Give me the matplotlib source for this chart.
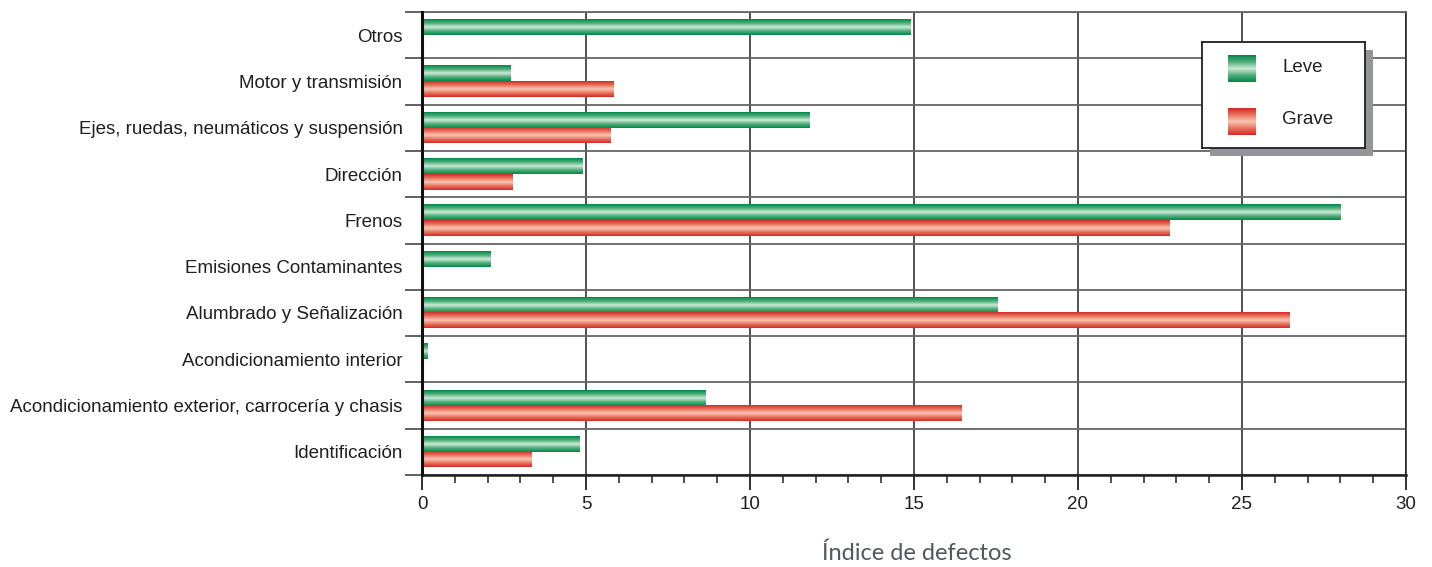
import numpy as np
import matplotlib
matplotlib.use("Agg")
from matplotlib import pyplot as plt
from matplotlib.colors import LinearSegmentedColormap
from matplotlib.patches import Rectangle
from matplotlib.ticker import MultipleLocator

categorias = ["Otros", "Motor y transmisión", "Ejes, ruedas, neumáticos y suspensión",
              "Dirección", "Frenos", "Emisiones Contaminantes", "Alumbrado y Señalización",
              "Acondicionamiento interior", "Acondicionamiento exterior, carrocería y chasis",
              "Identificación"]
leve = [14.9, 2.7, 11.8, 4.9, 28.0, 2.1, 17.55, 0.18, 8.65, 4.8]
grave = [0.0, 5.85, 5.75, 2.75, 22.8, 0.0, 26.45, 0.05, 16.45, 3.35]
series_names = ["Leve", "Grave"]

W, H = 1432, 567
TXT = "#231f20"
FS = 13.5

cmap_verde = LinearSegmentedColormap.from_list("verde", ["#00894a", "#4fae78", "#cfeada", "#4fae78", "#00894a"])
cmap_rojo = LinearSegmentedColormap.from_list("rojo", ["#d42b27", "#e8735f", "#f9c6b4", "#e8735f", "#d42b27"])
grad = np.linspace(0, 1, 64).reshape(-1, 1)

def fx(px):
    return px / W

def fy(py):
    return 1 - py / H

plt.rcParams['font.family'] = ['Liberation Sans', 'DejaVu Sans']

fig = plt.figure(figsize=(W / 100, H / 100), dpi=100)
ax = fig.add_axes([fx(422), fy(475), fx(1406) - fx(422), fy(12) - fy(475)])

h = 0.335
for i in range(len(categorias)):
    if leve[i] > 0:
        ax.imshow(grad, cmap=cmap_verde, extent=(0, leve[i], i - h, i), aspect='auto',
                  interpolation='bilinear', zorder=3)
    if grave[i] > 0:
        ax.imshow(grad, cmap=cmap_rojo, extent=(0, grave[i], i, i + h), aspect='auto',
                  interpolation='bilinear', zorder=3)

ax.set_xlim(0, 30)
ax.set_ylim(len(categorias) - 0.5, -0.5)

# ejes y rejilla
ax.xaxis.set_major_locator(MultipleLocator(5))
ax.xaxis.set_minor_locator(MultipleLocator(1))
ax.tick_params(axis='x', which='major', length=11, width=1.3, color=TXT, labelsize=FS,
               labelcolor=TXT, pad=4)
ax.tick_params(axis='x', which='minor', length=6, width=1.1, color=TXT)
ax.set_yticks(np.arange(-0.5, len(categorias), 1))
ax.set_yticklabels([])
ax.set_yticks(np.arange(len(categorias)), minor=True)
ax.set_yticklabels(categorias, minor=True)
ax.tick_params(axis='y', which='major', length=12, width=1.3, color="#555555")
ax.tick_params(axis='y', which='minor', length=0, labelsize=FS, labelcolor=TXT, pad=14)
ax.grid(axis='x', which='major', color=TXT, linewidth=1.1, zorder=1)
ax.grid(axis='y', which='major', color="#666666", linewidth=1.3, zorder=1)
ax.set_axisbelow(True)
ax.spines['left'].set_linewidth(2.2)
ax.spines['left'].set_color("#111111")
ax.spines['left'].set_zorder(4)
ax.spines['bottom'].set_linewidth(1.8)
ax.spines['bottom'].set_color(TXT)
ax.spines['right'].set_linewidth(1.1)
ax.spines['right'].set_color(TXT)
ax.spines['top'].set_linewidth(1.3)
ax.spines['top'].set_color("#666666")

fig.text(fx(917), fy(553), "Índice de defectos", ha='center', va='center',
         fontsize=17, color="#4d5a5e", family=['Lato', 'DejaVu Sans'])

# leyenda con sombra
fig.patches.append(Rectangle((fx(1210), fy(156)), fx(1373) - fx(1210), fy(50) - fy(156),
                             transform=fig.transFigure, facecolor="#939598",
                             edgecolor='none', zorder=4))
lax = fig.add_axes([fx(1202), fy(148), fx(1365) - fx(1202), fy(42) - fy(148)], zorder=5)
lax.set_xticks([])
lax.set_yticks([])
for s in lax.spines.values():
    s.set_linewidth(1.3)
    s.set_color(TXT)
for cm, y0, name in [(cmap_verde, 55, series_names[0]), (cmap_rojo, 108, series_names[1])]:
    lax.imshow(grad, cmap=cm, extent=(1228, 1256, y0 + 27, y0), aspect='auto',
               interpolation='bilinear')
    lax.text(1282, y0 + 12, name, fontsize=FS, color=TXT, va='center', ha='left')
lax.set_xlim(1202, 1365)
lax.set_ylim(148, 42)

fig.savefig("out.png", dpi=100)
